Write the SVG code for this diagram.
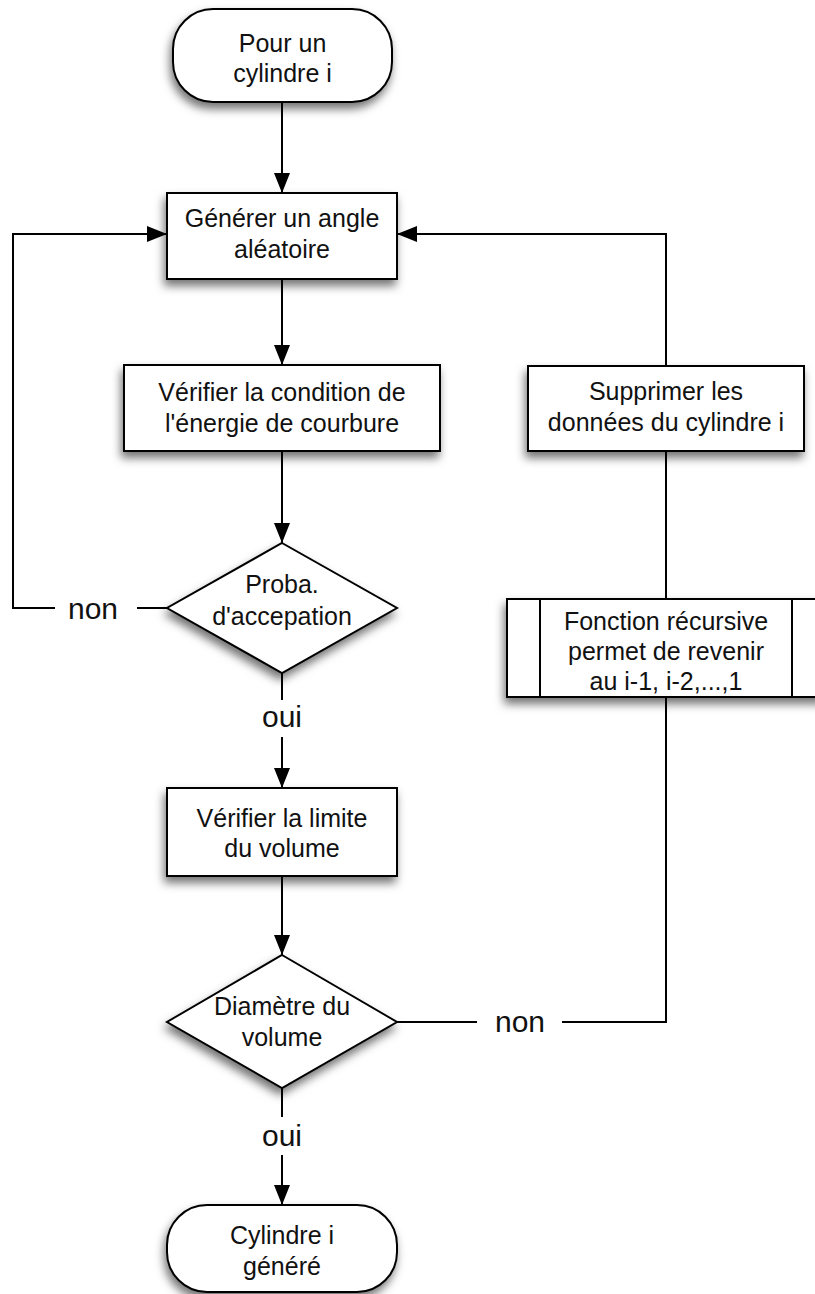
<svg xmlns="http://www.w3.org/2000/svg" width="815" height="1294" viewBox="0 0 815 1294">
<defs>
<style>
.shape{fill:#fff;stroke:#000;stroke-width:2;filter:url(#sh)}
.ln{fill:none;stroke:#000;stroke-width:2}
.t{font-family:"Liberation Sans",Arial,Helvetica,sans-serif;font-size:25px;fill:#111;text-anchor:middle}
.lb{font-family:"Liberation Sans",Arial,Helvetica,sans-serif;font-size:30px;fill:#111;text-anchor:middle}
</style>
<filter id="sh" x="-20%" y="-20%" width="140%" height="150%">
<feDropShadow dx="-2" dy="6" stdDeviation="5" flood-color="#000" flood-opacity="0.55"/>
</filter>
<marker id="arr" markerUnits="userSpaceOnUse" markerWidth="20" markerHeight="16" refX="20" refY="8" orient="auto">
<path d="M0,0 L20,8 L0,16 z" fill="#000"/>
</marker>
</defs>
<rect width="815" height="1294" fill="#fff"/>

<g id="connectors">
<path class="ln" d="M282,102 V193" marker-end="url(#arr)"/>
<path class="ln" d="M282,279 V365" marker-end="url(#arr)"/>
<path class="ln" d="M282,451 V543" marker-end="url(#arr)"/>
<path class="ln" d="M167,608 H137"/>
<path class="ln" d="M55,608 H13 V234 H167" marker-end="url(#arr)"/>
<text class="lb" x="93" y="619">non</text>
<path class="ln" d="M282,673 V700"/>
<text class="lb" x="282" y="727">oui</text>
<path class="ln" d="M282,737 V788" marker-end="url(#arr)"/>
<path class="ln" d="M282,876 V955" marker-end="url(#arr)"/>
<path class="ln" d="M397,1022 H477"/>
<text class="lb" x="520" y="1032">non</text>
<path class="ln" d="M562,1022 H666 V697"/>
<path class="ln" d="M666,599 V451"/>
<path class="ln" d="M666,366 V234 H397" marker-end="url(#arr)"/>
<path class="ln" d="M282,1088 V1117"/>
<text class="lb" x="282" y="1146">oui</text>
<path class="ln" d="M282,1155 V1205" marker-end="url(#arr)"/>
</g>

<g id="start">
<rect class="shape" x="173" y="9" width="219" height="93" rx="40" ry="40"/>
<text class="t" x="282.5" y="52">Pour un</text>
<text class="t" x="282.5" y="82">cylindre i</text>
</g>

<g id="generer">
<rect class="shape" x="167" y="193" width="230" height="86"/>
<text class="t" x="282" y="227">Générer un angle</text>
<text class="t" x="282" y="258">aléatoire</text>
</g>

<g id="verifier-energie">
<rect class="shape" x="124" y="365" width="316" height="86"/>
<text class="t" x="282" y="401">Vérifier la condition de</text>
<text class="t" x="282" y="432">l'énergie de courbure</text>
</g>

<g id="proba">
<polygon class="shape" points="282,543 397,608 282,673 167,608"/>
<text class="t" x="282" y="593">Proba.</text>
<text class="t" x="282" y="625">d'accepation</text>
</g>

<g id="supprimer">
<rect class="shape" x="528" y="366" width="276" height="85"/>
<text class="t" x="666" y="400">Supprimer les</text>
<text class="t" x="666" y="431">données du cylindre i</text>
</g>

<g id="fonction">
<rect class="shape" x="507" y="599" width="318" height="98"/>
<line class="ln" x1="540" y1="599" x2="540" y2="697"/>
<line class="ln" x1="792" y1="599" x2="792" y2="697"/>
<text class="t" x="666" y="630">Fonction récursive</text>
<text class="t" x="666" y="660">permet de revenir</text>
<text class="t" x="666" y="690">au i-1, i-2,...,1</text>
</g>

<g id="verifier-limite">
<rect class="shape" x="167" y="788" width="230" height="88"/>
<text class="t" x="282" y="827">Vérifier la limite</text>
<text class="t" x="282" y="857">du volume</text>
</g>

<g id="diametre">
<polygon class="shape" points="282,955 397,1022 282,1088 167,1022"/>
<text class="t" x="282" y="1015">Diamètre du</text>
<text class="t" x="282" y="1046">volume</text>
</g>

<g id="end">
<rect class="shape" x="167" y="1205" width="230" height="87" rx="40" ry="40"/>
<text class="t" x="282" y="1244">Cylindre i</text>
<text class="t" x="282" y="1275">généré</text>
</g>
</svg>
